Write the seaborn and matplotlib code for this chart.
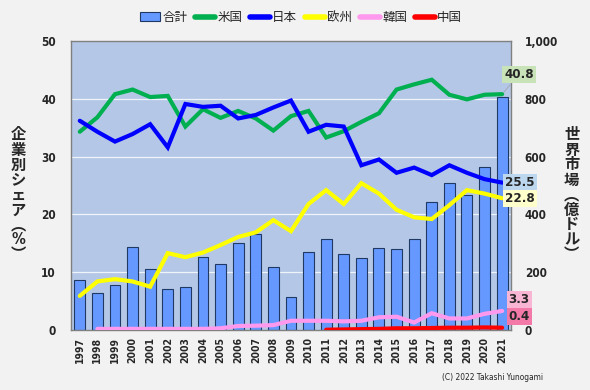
import numpy as np
import pandas as pd
import seaborn as sns
import matplotlib.pyplot as plt
from matplotlib.patches import Patch
from matplotlib.lines import Line2D

years = [str(y) for y in range(1997, 2022)]

# world market (億ドル), right axis
market = [173, 127, 156, 286, 210, 142, 148, 252, 227, 300, 332, 217, 114,
          271, 314, 263, 248, 284, 279, 316, 442, 510, 467, 565, 806]

# company share (%), left axis
usa = [34.3, 36.8, 40.8, 41.6, 40.3, 40.5, 35.2, 38.2, 36.7, 37.9, 36.6, 34.5, 37.0,
       37.9, 33.3, 34.4, 36.0, 37.5, 41.6, 42.5, 43.3, 40.7, 39.9, 40.7, 40.8]
japan = [36.2, 34.3, 32.6, 33.9, 35.6, 31.6, 39.1, 38.6, 38.8, 36.6, 37.2, 38.5, 39.7,
         34.3, 35.5, 35.2, 28.5, 29.5, 27.2, 28.1, 26.8, 28.5, 27.2, 26.1, 25.5]
europe = [5.9, 8.4, 8.8, 8.4, 7.5, 13.3, 12.6, 13.4, 14.7, 16.1, 16.9, 19.0, 17.1,
          21.8, 24.2, 21.8, 25.4, 23.6, 20.8, 19.5, 19.2, 21.6, 24.2, 23.6, 22.8]
korea = [np.nan, 0.2, 0.2, 0.2, 0.2, 0.2, 0.2, 0.2, 0.3, 0.7, 0.75, 0.85, 1.6,
         1.6, 1.6, 1.5, 1.6, 2.2, 2.3, 1.3, 2.9, 2.0, 2.0, 2.8, 3.3]
china = [np.nan] * 14 + [0.05, 0.1, 0.15, 0.2, 0.3, 0.3, 0.35, 0.4, 0.4, 0.45, 0.4]

series_names = ['米国', '日本', '欧州', '韓国', '中国']
series_vals = [usa, japan, europe, korea, china]
series_cols = ['#00b050', '#0000ff', '#ffff00', '#ff99ee', '#ff0000']
label_bg = ['#c9e3b9', '#bdd7ee', '#ffffcc', '#f8b6d4', '#f37aa8']
label_off = [(17, 20), (18, 0), (18, 0), (17, 11), (17, 11)]

sns.set_style('white')
plt.rcParams['font.family'] = ['DejaVu Sans', 'Noto Sans CJK JP']
plt.rcParams['font.stretch'] = 'condensed'

fig = plt.figure(figsize=(5.9, 3.9), dpi=100, facecolor='#f2f2f2')
ax = fig.add_axes([0.1203, 0.1538, 0.7457, 0.7411])
ax.set_facecolor('#b4c7e7')

df = pd.DataFrame({'year': years, 'market': market})
sns.barplot(data=df, x='year', y='market', ax=ax, color='#6699ff', width=0.62,
            edgecolor='#1f3864', linewidth=0.8, saturation=1)
ax.set_ylim(0, 1000)
ax.set_xlim(-0.5, len(years) - 0.5)
ax.set_xticks(range(len(years)))
ax.set_xticklabels(years, rotation=90, fontsize=7.5, fontweight='bold')
ax.tick_params(axis='x', length=0, pad=5)
ax.set_xlabel('')
ax.set_ylabel('')
for y in [200, 400, 600, 800]:
    ax.axhline(y, color='white', lw=0.9, alpha=0.8, zorder=0.5)
for s in ax.spines.values():
    s.set_color('#808080')
    s.set_linewidth(1)

ax2 = ax.twinx()
ax2.set_ylim(0, 50)
pos = np.arange(len(years))
for name, vals, col in zip(series_names, series_vals, series_cols):
    sns.lineplot(x=pos, y=vals, ax=ax2, color=col, lw=3.0, solid_capstyle='round',
                 solid_joinstyle='miter')
ax2.yaxis.tick_left()
ax2.set_yticks([0, 10, 20, 30, 40, 50])
ax2.set_yticklabels(['0', '10', '20', '30', '40', '50'], fontsize=8.5, fontweight='bold')
ax2.tick_params(axis='y', length=0, pad=11)
ax2.set_ylabel('')
for s in ax2.spines.values():
    s.set_visible(False)

# twinx moves the bar axis ticks to the left, put them back on the right
ax.yaxis.tick_right()
ax.set_yticks([0, 200, 400, 600, 800, 1000])
ax.set_yticklabels(['0', '200', '400', '600', '800', '1,000'], fontsize=8.5, fontweight='bold')
ax.tick_params(axis='y', length=0, pad=10)

for vals, bg, off in zip(series_vals, label_bg, label_off):
    v = vals[-1]
    ax2.annotate(f'{v:.1f}', xy=(pos[-1], v), xytext=off, textcoords='offset pixels',
                 ha='center', va='center', fontsize=9.5, fontweight='bold',
                 bbox=dict(boxstyle='square,pad=0.15', fc=bg, ec='none'),
                 arrowprops=dict(arrowstyle='-', color='#a0a0a0', lw=0.5) if off[1] > 15 else None,
                 annotation_clip=False)

fig.text(0.031, 0.5, '\n'.join('企業別シェア') + '\n︵\n%\n︶', ha='center', va='center',
         fontsize=11, fontweight='bold', linespacing=1.0)
fig.text(0.969, 0.5, '\n'.join('世界市場') + '\n︵\n億\nド\nル\n︶', ha='center', va='center',
         fontsize=11, fontweight='bold', linespacing=1.0)

handles = [Patch(facecolor='#6699ff', edgecolor='#1f3864', lw=0.8)]
handles += [Line2D([], [], color=c, lw=4, solid_capstyle='round') for c in series_cols]
fig.legend(handles, ['合計'] + series_names, loc='center', bbox_to_anchor=(0.51, 0.955),
           ncol=6, frameon=False, fontsize=9, handlelength=1.6, handletextpad=0.2,
           columnspacing=0.6)

fig.text(0.92, 0.033, '(C) 2022 Takashi Yunogami', ha='right', va='center', fontsize=6)

fig.savefig('out.png', dpi=100, facecolor=fig.get_facecolor())
